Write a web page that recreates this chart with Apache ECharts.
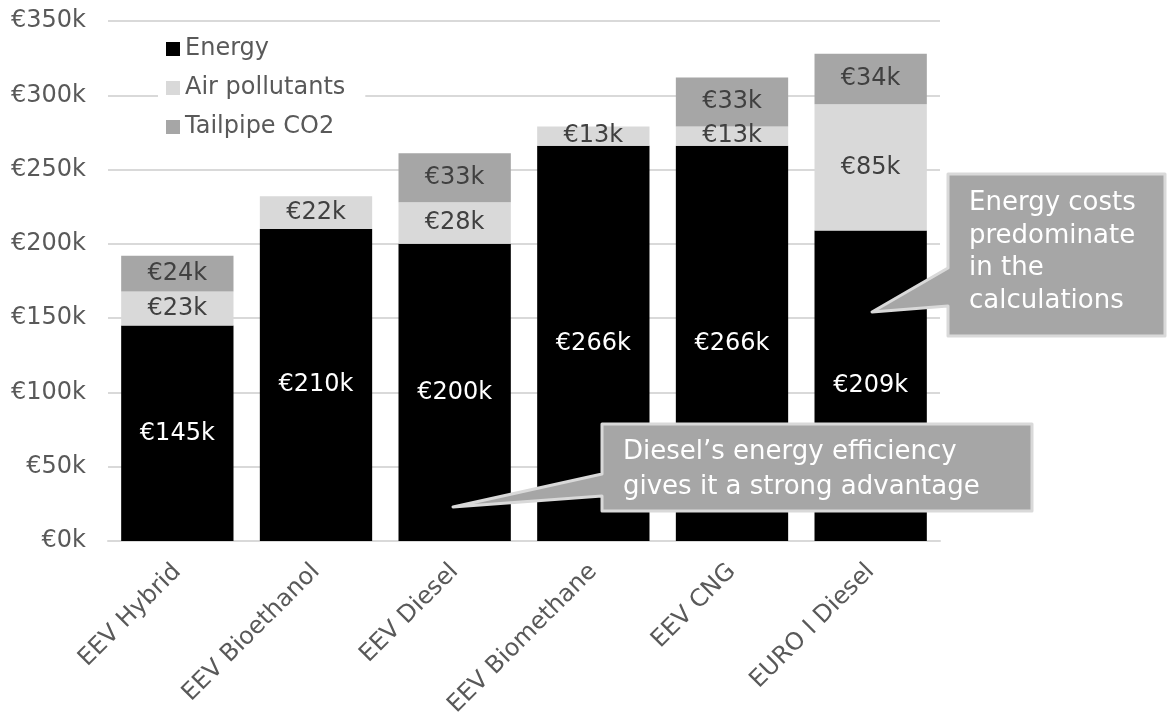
<!DOCTYPE html>
<html><head><meta charset="utf-8">
<script src="https://cdn.jsdelivr.net/npm/echarts@6/dist/echarts.min.js"></script>
<style>html,body{margin:0;padding:0;background:#fff}#c{width:1168px;height:712px}</style>
</head><body><div id="c"></div>
<script>
const categories = ['EEV Hybrid','EEV Bioethanol','EEV Diesel','EEV Biomethane','EEV CNG','EURO I Diesel'];
const energy = [145, 210, 200, 266, 266, 209];
const airPollutants = [23, 22, 28, 13, 13, 85];
const tailpipeCO2 = [24, 0, 33, 0, 33, 34];
const yTicks = [0, 50, 100, 150, 200, 250, 300, 350];

const FONT = 'DejaVu Sans';
const chart = echarts.init(document.getElementById('c'), null, {renderer:'canvas'});
const lbl = (color) => ({
  show: true, position: 'inside', color: color, fontFamily: FONT, fontSize: 24,
  formatter: p => p.value ? '€' + p.value + 'k' : ''
});
chart.setOption({
  animation: false,
  textStyle: {fontFamily: FONT},
  grid: {left: 108, right: 228, top: 21, bottom: 171, containLabel: false, outerBoundsMode: 'none'},
  legend: {
    orient: 'vertical', left: 158, top: 33, itemWidth: 14, itemHeight: 14, itemGap: 15,
    backgroundColor: '#fff', padding: [4, 20, 4, 8],
    textStyle: {fontFamily: FONT, fontSize: 24, color: '#595959'},
    icon: 'rect',
    data: ['Energy', 'Air pollutants', 'Tailpipe CO2']
  },
  xAxis: {
    type: 'category', data: categories,
    axisLine: {lineStyle: {color: '#d9d9d9', width: 2}},
    axisTick: {show: false},
    axisLabel: {rotate: 45, color: '#595959', fontFamily: FONT, fontSize: 24, margin: 27, interval: 0}
  },
  yAxis: {
    type: 'value', min: yTicks[0], max: yTicks[yTicks.length-1], interval: 50,
    axisLine: {show: false}, axisTick: {show: false},
    splitLine: {lineStyle: {color: '#d9d9d9', width: 2}},
    axisLabel: {color: '#595959', fontFamily: FONT, fontSize: 24, margin: 22, formatter: v => '€' + v + 'k'}
  },
  series: [
    {name: 'Energy', type: 'bar', stack: 't', data: energy, barCategoryGap: '19%',
     itemStyle: {color: '#000000'}, label: lbl('#ffffff')},
    {name: 'Air pollutants', type: 'bar', stack: 't', data: airPollutants,
     itemStyle: {color: '#d9d9d9'}, label: lbl('#404040')},
    {name: 'Tailpipe CO2', type: 'bar', stack: 't', data: tailpipeCO2,
     itemStyle: {color: '#a6a6a6'}, label: lbl('#404040')}
  ],
  graphic: [
    {type: 'polygon', z: 100,
     shape: {points: [[602,424],[1032,424],[1032,511],[602,511],[602,496],[453,507],[602,474]]},
     style: {fill: '#a6a6a6', stroke: '#d9d9d9', lineWidth: 3, lineJoin: 'round'}},
    {type: 'text', z: 101, left: 623, top: 435,
     style: {text: 'Diesel’s energy efficiency\ngives it a strong advantage', fill: '#fff',
             font: '26px "DejaVu Sans"', lineHeight: 35}},
    {type: 'polygon', z: 100,
     shape: {points: [[948,174],[1165,174],[1165,336],[948,336],[948,306],[872,312],[948,268]]},
     style: {fill: '#a6a6a6', stroke: '#d9d9d9', lineWidth: 3, lineJoin: 'round'}},
    {type: 'text', z: 101, left: 969, top: 187,
     style: {text: 'Energy costs\npredominate\nin the\ncalculations', fill: '#fff',
             font: '26px "DejaVu Sans"', lineHeight: 32.5}}
  ]
});
</script></body></html>
